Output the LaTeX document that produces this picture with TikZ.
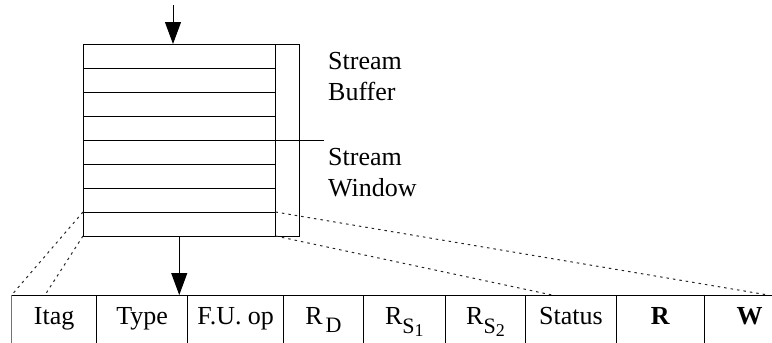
\documentclass[tikz,border=0pt]{standalone}
\usepackage{fontspec}
\setmainfont{Liberation Serif}
\usetikzlibrary{positioning, arrows.meta, calc}

\begin{document}
\begin{tikzpicture}[
  x=1pt, y=-1pt,
  every node/.style={font=\fontsize{26}{31}\selectfont},
  slot/.style={draw, line width=1pt, minimum width=192.5pt, minimum height=24pt,
               inner sep=0pt, outer sep=0pt},
  tagcol/.style={draw, line width=1pt, minimum width=23.5pt, minimum height=192pt,
                 inner sep=0pt, outer sep=0pt},
  field/.style={minimum height=48pt, inner sep=0pt, outer sep=0pt,
                text height=17pt, text depth=6pt},
  sep/.style={line width=1pt},
  arr/.style={-{Triangle[length=22pt, width=16pt]}, line width=1pt},
  zoomln/.style={line width=1pt, dash pattern=on 2.5pt off 4pt, black!85},
  lbl/.style={anchor=west, align=left, inner sep=0pt},
]
\useasboundingbox (0,0) rectangle (772,343);

% ---- Stream buffer (slots + tag column) ----
\node[slot, anchor=north west] (row1) at (83,44) {};
\foreach \i [count=\j from 2] in {1,...,7}
  \node[slot, below=0pt of row\i] (row\j) {};
\node[tagcol, anchor=north west] (tags) at (row1.north east) {};

% ---- Window boundary mark ----
\coordinate (winend) at (324,140);
\draw[sep] (row5.north east) -- (winend);

% ---- Labels ----
\node[lbl] (buflbl) at (328,77) {Stream\\Buffer};
\node[lbl] (winlbl) at (328,173) {Stream\\Window};

% ---- Entry fields (bottom row) ----
\node[field, minimum width=85pt, anchor=north west] (f1) at (11.7,295) {Itag};
\node[field, minimum width=91pt, right=0pt of f1] (f2) {Type};
\node[field, minimum width=96pt, right=0pt of f2] (f3) {F.U. op};
\node[field, minimum width=79.6pt, right=0pt of f3] (f4)
  {R\kern3pt\raisebox{-8pt}{\fontsize{22}{22}\selectfont D}};
\node[field, minimum width=82pt, right=0pt of f4] (f5)
  {R\raisebox{-9pt}{\fontsize{22}{22}\selectfont S\raisebox{-3pt}{\fontsize{18}{18}\selectfont 1}}};
\node[field, minimum width=80.4pt, right=0pt of f5] (f6)
  {R\raisebox{-9pt}{\fontsize{22}{22}\selectfont S\raisebox{-3pt}{\fontsize{18}{18}\selectfont 2}}};
\node[field, minimum width=90.6pt, right=0pt of f6] (f7) {Status};
\node[field, minimum width=88pt, right=0pt of f7] (f8) {\textbf{R}};
\node[field, minimum width=90.4pt, right=0pt of f8] (f9) {\textbf{W}};

\coordinate (tblend) at (772,295);
\draw[sep] (f1.north west) -- (tblend);
\draw[sep, black!55] (f1.north west) -- (f1.south west);
\foreach \i in {2,...,9}
  \draw[sep] (f\i.north west) -- (f\i.south west);

% ---- Arrows ----
\coordinate (feed) at (173,5);
\draw[arr] (feed) -- (feed |- row1.north);
\draw[arr] (row8.south) -- (row8.south |- f1.north);

% ---- Zoom lines (last slot -> fields) ----
\coordinate (zl) at (45,295);
\coordinate (zr) at (552,295);
\coordinate (zrr) at (768,295);
\draw[zoomln] (row7.south west) -- (f1.north west);
\draw[zoomln] (row8.south west) -- (zl);
\draw[zoomln] (row7.south east) -- (zrr);
\draw[zoomln] (row8.south east) -- (zr);

\end{tikzpicture}
\end{document}
